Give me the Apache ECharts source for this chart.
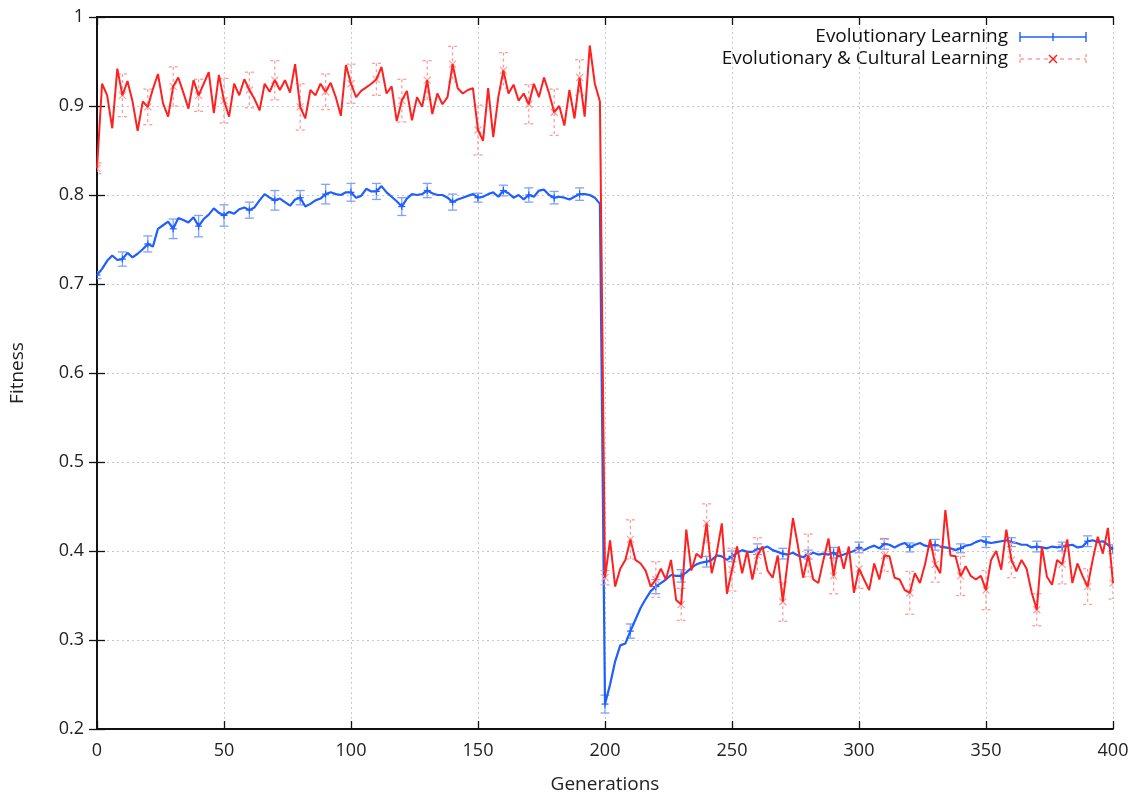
<!DOCTYPE html>
<html>
<head>
<meta charset="utf-8">
<script src="https://cdn.jsdelivr.net/npm/echarts@6/dist/echarts.min.js"></script>
<style>
html,body{margin:0;padding:0;background:#fff;}
#chart{width:1140px;height:799px;}
</style>
</head>
<body>
<div id="chart"></div>
<script>
// Generations sampled every 2 steps (0..400)
const generations = Array.from({length: 201}, (_, i) => i * 2);

// Evolutionary Learning (blue), one value per sampled generation
const evoValues = [
  0.710,0.717,0.726,0.732,0.727,0.728,0.735,0.730,0.734,0.739,
  0.745,0.742,0.762,0.766,0.770,0.762,0.774,0.772,0.769,0.775,
  0.765,0.773,0.778,0.785,0.780,0.777,0.781,0.779,0.784,0.786,
  0.783,0.786,0.794,0.801,0.797,0.794,0.796,0.792,0.788,0.795,
  0.797,0.787,0.790,0.794,0.796,0.801,0.803,0.801,0.800,0.803,
  0.803,0.797,0.799,0.807,0.804,0.804,0.810,0.803,0.798,0.793,
  0.787,0.796,0.801,0.800,0.801,0.805,0.802,0.800,0.800,0.797,
  0.792,0.795,0.797,0.799,0.801,0.797,0.798,0.801,0.803,0.798,
  0.805,0.802,0.797,0.800,0.795,0.800,0.798,0.805,0.806,0.800,
  0.797,0.798,0.797,0.795,0.798,0.801,0.801,0.800,0.797,0.790,
  0.228,0.250,0.276,0.294,0.296,0.310,0.323,0.336,0.346,0.355,
  0.360,0.364,0.368,0.373,0.372,0.372,0.376,0.381,0.385,0.387,
  0.388,0.390,0.395,0.394,0.390,0.394,0.398,0.401,0.399,0.399,
  0.402,0.403,0.405,0.401,0.399,0.397,0.396,0.398,0.395,0.393,
  0.396,0.398,0.396,0.397,0.396,0.398,0.394,0.396,0.398,0.400,
  0.404,0.401,0.404,0.406,0.403,0.408,0.407,0.404,0.407,0.409,
  0.404,0.407,0.409,0.406,0.405,0.407,0.405,0.404,0.403,0.401,
  0.403,0.406,0.407,0.410,0.412,0.410,0.409,0.410,0.411,0.412,
  0.410,0.409,0.407,0.407,0.404,0.405,0.404,0.403,0.405,0.404,
  0.405,0.406,0.407,0.404,0.405,0.411,0.412,0.410,0.411,0.407,
  0.402
];

// Evolutionary & Cultural Learning (red)
const cultValues = [
  0.830,0.925,0.912,0.875,0.942,0.912,0.928,0.905,0.872,0.905,
  0.899,0.919,0.936,0.903,0.888,0.922,0.932,0.915,0.897,0.929,
  0.912,0.925,0.938,0.892,0.935,0.906,0.888,0.925,0.912,0.930,
  0.918,0.908,0.895,0.925,0.916,0.929,0.918,0.929,0.915,0.947,
  0.899,0.886,0.918,0.912,0.925,0.916,0.926,0.910,0.889,0.946,
  0.925,0.910,0.917,0.921,0.925,0.930,0.944,0.914,0.922,0.883,
  0.906,0.917,0.884,0.910,0.899,0.929,0.891,0.914,0.902,0.910,
  0.947,0.920,0.914,0.918,0.920,0.873,0.861,0.920,0.865,0.910,
  0.940,0.914,0.924,0.906,0.914,0.902,0.925,0.910,0.932,0.914,
  0.893,0.900,0.878,0.918,0.886,0.932,0.888,0.968,0.925,0.905,
  0.370,0.412,0.360,0.380,0.390,0.413,0.390,0.386,0.378,0.360,
  0.368,0.380,0.368,0.390,0.345,0.340,0.424,0.378,0.397,0.392,
  0.431,0.375,0.398,0.431,0.352,0.379,0.405,0.375,0.400,0.368,
  0.395,0.405,0.378,0.370,0.395,0.343,0.390,0.437,0.405,0.370,
  0.395,0.368,0.364,0.390,0.414,0.372,0.405,0.380,0.405,0.353,
  0.380,0.368,0.356,0.386,0.368,0.395,0.394,0.370,0.368,0.356,
  0.353,0.375,0.364,0.385,0.413,0.385,0.375,0.446,0.395,0.394,
  0.372,0.383,0.372,0.368,0.372,0.356,0.390,0.400,0.379,0.424,
  0.390,0.377,0.390,0.380,0.353,0.334,0.405,0.371,0.362,0.390,
  0.385,0.413,0.364,0.386,0.372,0.360,0.390,0.416,0.397,0.426,
  0.364
];

// Half-widths of error bars every 10 generations (0..400)
const evoErr = [
  0.004,0.008,0.009,0.011,0.012,0.012,0.009,0.011,0.008,0.011,
  0.010,0.009,0.010,0.008,0.009,0.005,0.006,0.008,0.007,0.007,
  0.010,0.008,0.008,0.007,0.006,0.006,0.006,0.006,0.005,0.006,
  0.006,0.006,0.005,0.006,0.005,0.006,0.005,0.006,0.005,0.006,
  0.005
];
const cultErr = [
  0.006,0.024,0.020,0.022,0.018,0.025,0.020,0.022,0.026,0.020,
  0.022,0.018,0.024,0.022,0.020,0.028,0.020,0.022,0.026,0.020,
  0.008,0.022,0.020,0.018,0.022,0.024,0.020,0.022,0.024,0.020,
  0.022,0.018,0.024,0.020,0.022,0.022,0.020,0.018,0.022,0.020,
  0.018
];

const yTicks = [0.2,0.3,0.4,0.5,0.6,0.7,0.8,0.9,1];
const xTicks = [0,50,100,150,200,250,300,350,400];

const BLUE = '#1f5eff';
const BLUE_LIGHT = '#7ea2ff';
const RED = '#ff2020';
const RED_LIGHT = '#ff9a9a';

const evoLine = generations.map((g, i) => [g, evoValues[i]]);
const cultLine = generations.map((g, i) => [g, cultValues[i]]);
const evoBars = [], cultBars = [];
generations.forEach((g, i) => {
  if (g % 10 === 0) {
    const k = g / 10;
    evoBars.push([g, evoValues[i], evoErr[k]]);
    cultBars.push([g, cultValues[i], cultErr[k]]);
  }
});

function errRender(color, markColor, dashed, mark) {
  return function (params, api) {
    const x = api.value(0), y = api.value(1), e = api.value(2);
    const p = api.coord([x, y]);
    const hi = api.coord([x, y + e]);
    const lo = api.coord([x, y - e]);
    const cap = 4.5, m = 3.5;
    const st = {stroke: color, lineWidth: 1.3, lineDash: dashed ? [3, 3] : null};
    const ch = [
      {type: 'line', shape: {x1: p[0], y1: hi[1], x2: p[0], y2: lo[1]}, style: st},
      {type: 'line', shape: {x1: p[0] - cap, y1: hi[1], x2: p[0] + cap, y2: hi[1]}, style: st},
      {type: 'line', shape: {x1: p[0] - cap, y1: lo[1], x2: p[0] + cap, y2: lo[1]}, style: st}
    ];
    const ms = {stroke: markColor, lineWidth: 1.2};
    if (mark === '+') {
      ch.push({type: 'line', shape: {x1: p[0] - m, y1: p[1], x2: p[0] + m, y2: p[1]}, style: ms});
      ch.push({type: 'line', shape: {x1: p[0], y1: p[1] - m, x2: p[0], y2: p[1] + m}, style: ms});
    } else {
      ch.push({type: 'line', shape: {x1: p[0] - m, y1: p[1] - m, x2: p[0] + m, y2: p[1] + m}, style: ms});
      ch.push({type: 'line', shape: {x1: p[0] - m, y1: p[1] + m, x2: p[0] + m, y2: p[1] - m}, style: ms});
    }
    return {type: 'group', children: ch};
  };
}

const FONT = 'Open Sans';
const axisLine = {show: true, lineStyle: {color: '#111', width: 1.8}};
const tick = {show: true, inside: true, length: 8, lineStyle: {color: '#111', width: 1.3}};
const split = {show: true, lineStyle: {color: '#c8c8c8', width: 1, type: [2, 3]}};

const chart = echarts.init(document.getElementById('chart'));
chart.setOption({
  animation: false,
  backgroundColor: '#fff',
  grid: {left: 97, right: 27, top: 17, bottom: 69, containLabel: false},
  xAxis: [{
    type: 'value', min: 0, max: 400, interval: 50, position: 'bottom',
    name: 'Generations', nameLocation: 'middle', nameGap: 46,
    nameTextStyle: {fontFamily: FONT, fontSize: 19, color: '#222'},
    axisLine: axisLine, axisTick: tick, splitLine: split,
    axisLabel: {fontFamily: FONT, fontSize: 18, color: '#222', margin: 13,
      formatter: v => xTicks.indexOf(v) >= 0 ? String(v) : ''}
  }, {
    type: 'value', min: 0, max: 400, interval: 50, position: 'top',
    axisLine: axisLine, axisTick: tick, splitLine: {show: false}, axisLabel: {show: false}
  }],
  yAxis: [{
    type: 'value', min: 0.2, max: 1, interval: 0.1, position: 'left',
    name: 'Fitness', nameLocation: 'middle', nameGap: 70, nameRotate: 90,
    nameTextStyle: {fontFamily: FONT, fontSize: 19, color: '#222'},
    axisLine: axisLine, axisTick: tick, splitLine: split,
    axisLabel: {fontFamily: FONT, fontSize: 18, color: '#222', margin: 13,
      formatter: v => {
        const t = yTicks.find(t => Math.abs(t - v) < 1e-6);
        return t === undefined ? '' : String(t);
      }}
  }, {
    type: 'value', min: 0.2, max: 1, interval: 0.1, position: 'right',
    axisLine: axisLine, axisTick: tick, splitLine: {show: false}, axisLabel: {show: false}
  }],
  series: [
    {type: 'custom', name: 'evoErr', data: evoBars,
      renderItem: errRender(BLUE_LIGHT, BLUE, false, '+'), clip: true, z: 2},
    {type: 'line', name: 'Evolutionary Learning', data: evoLine, showSymbol: false,
      lineStyle: {color: BLUE, width: 2.2}, itemStyle: {color: BLUE}, z: 3},
    {type: 'custom', name: 'cultErr', data: cultBars,
      renderItem: errRender(RED_LIGHT, RED_LIGHT, true, 'x'), clip: true, z: 4},
    {type: 'line', name: 'Evolutionary & Cultural Learning', data: cultLine, showSymbol: false,
      lineStyle: {color: RED, width: 2}, itemStyle: {color: RED}, z: 5}
  ],
  graphic: [
    {type: 'text', x: 1008, y: 37, style: {text: 'Evolutionary Learning', fontFamily: FONT, fontSize: 19, fill: '#111', align: 'right', verticalAlign: 'middle'}},
    {type: 'text', x: 1008, y: 59, style: {text: 'Evolutionary & Cultural Learning', fontFamily: FONT, fontSize: 19, fill: '#111', align: 'right', verticalAlign: 'middle'}},
    {type: 'line', shape: {x1: 1020, y1: 37, x2: 1086, y2: 37}, style: {stroke: BLUE, lineWidth: 1.4}},
    {type: 'line', shape: {x1: 1020, y1: 32, x2: 1020, y2: 42}, style: {stroke: BLUE, lineWidth: 1.4}},
    {type: 'line', shape: {x1: 1086, y1: 32, x2: 1086, y2: 42}, style: {stroke: BLUE, lineWidth: 1.4}},
    {type: 'line', shape: {x1: 1053, y1: 33, x2: 1053, y2: 41}, style: {stroke: BLUE, lineWidth: 1.4}},
    {type: 'line', shape: {x1: 1020, y1: 59, x2: 1086, y2: 59}, style: {stroke: RED_LIGHT, lineWidth: 1.4, lineDash: [4, 4]}},
    {type: 'line', shape: {x1: 1020, y1: 54, x2: 1020, y2: 64}, style: {stroke: RED_LIGHT, lineWidth: 1.4, lineDash: [3, 3]}},
    {type: 'line', shape: {x1: 1086, y1: 54, x2: 1086, y2: 64}, style: {stroke: RED_LIGHT, lineWidth: 1.4, lineDash: [3, 3]}},
    {type: 'line', shape: {x1: 1049, y1: 55, x2: 1057, y2: 63}, style: {stroke: RED, lineWidth: 1.4}},
    {type: 'line', shape: {x1: 1049, y1: 63, x2: 1057, y2: 55}, style: {stroke: RED, lineWidth: 1.4}}
  ]
});
</script>
</body>
</html>
